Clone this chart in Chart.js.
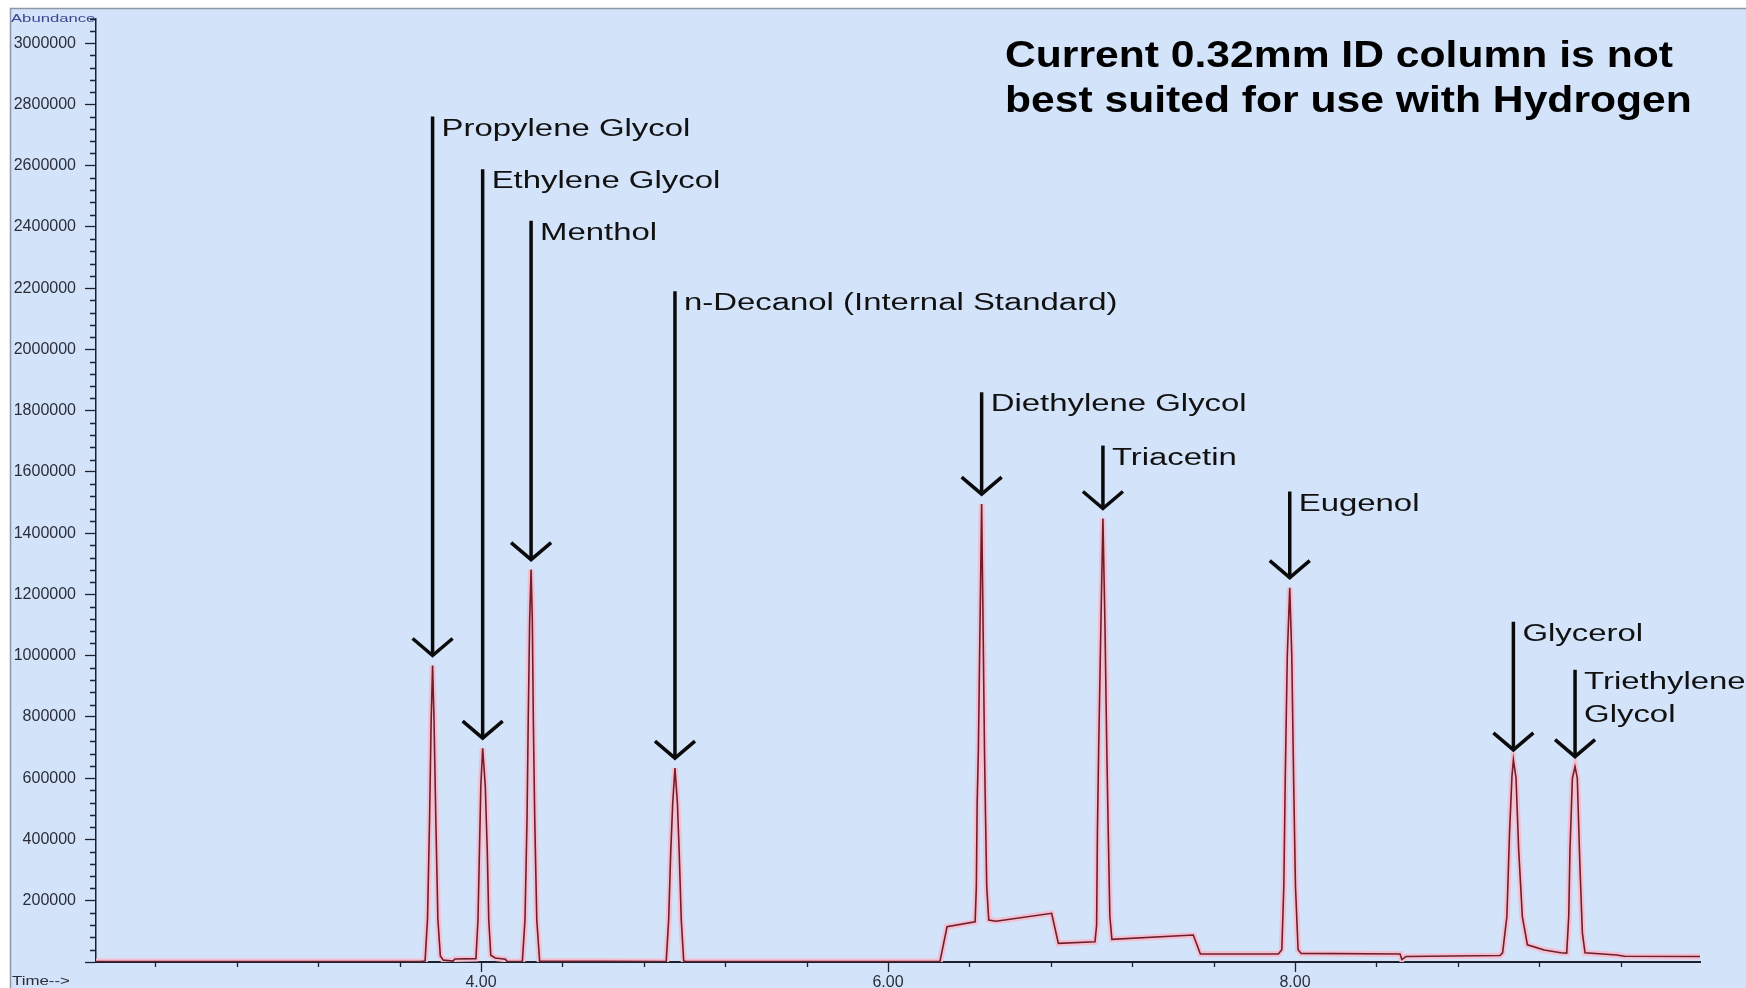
<!DOCTYPE html>
<html>
<head>
<meta charset="utf-8">
<title>Chromatogram</title>
<script src="https://cdn.jsdelivr.net/npm/chart.js@4.4.1/dist/chart.umd.min.js"></script>
<style>
  html, body { margin: 0; padding: 0; background: #fff; }
  #wrap { width: 1746px; height: 988px; position: relative; }
</style>
</head>
<body>
<div id="wrap"><canvas id="chrom"></canvas></div>
<script>
// Retention time (min) and abundance.
const times = [
  2.108, 3.700, 3.725, 3.737, 3.747, 3.755, 3.762, 3.769, 3.778, 3.788, 3.800, 3.815, 3.862, 3.872,
  3.975, 3.985, 3.992, 3.999, 4.008, 4.021, 4.031, 4.038, 4.048, 4.070, 4.120, 4.128,
  4.203, 4.216, 4.226, 4.232, 4.239, 4.246, 4.252, 4.257, 4.264, 4.274, 4.288,
  4.910, 4.922, 4.932, 4.942, 4.953, 4.965, 4.974, 4.984, 4.996, 5.010,
  6.255, 6.290, 6.428, 6.434, 6.438, 6.444, 6.452, 6.460, 6.467, 6.474, 6.478, 6.485, 6.495, 6.530,
  6.804, 6.837, 7.017, 7.025, 7.029, 7.035, 7.046, 7.056, 7.066, 7.075, 7.082, 7.090, 7.100,
  7.500, 7.535, 7.918, 7.935, 7.945, 7.952, 7.962, 7.974, 7.984, 7.993, 8.002, 8.015, 8.030,
  8.516, 8.525, 8.545, 9.007, 9.020, 9.041, 9.054, 9.066, 9.073, 9.086, 9.099, 9.117, 9.142,
  9.224, 9.306, 9.335, 9.345, 9.351, 9.363, 9.376, 9.387, 9.400, 9.412, 9.425, 9.580, 9.620, 9.990
];
const abundance = [
  1500, 1500, 3000, 140000, 460000, 790000, 968000, 790000, 460000, 140000, 20000, 6000, 3000, 10000,
  11000, 137000, 355000, 573000, 698000, 573000, 355000, 137000, 22000, 13000, 9000, 1500,
  1500, 137000, 464000, 791000, 1117000, 1281000, 1117000, 791000, 464000, 137000, 3000,
  1500, 137000, 355000, 519000, 633000, 519000, 355000, 137000, 3000, 1500,
  1500, 115000, 131000, 246000, 519000, 693000, 1100000, 1495000, 1100000, 693000, 519000, 246000, 137000, 133000,
  159000, 61000, 66000, 120000, 431000, 693000, 1100000, 1448000, 1100000, 693000, 431000, 150000, 74000,
  88000, 26000, 26000, 40000, 250000, 600000, 1000000, 1222000, 1000000, 600000, 250000, 40000, 28000,
  26000, 8000, 18000, 21000, 30000, 148000, 420000, 606000, 660000, 600000, 366000, 148000, 56000,
  39000, 30000, 29000, 150000, 366000, 600000, 638000, 600000, 311000, 95000, 30000, 23000, 19000, 18000
];

// Annotated peaks: name, apex time, apex height, level where the arrow starts.
const peakNames = ['Propylene Glycol', 'Ethylene Glycol', 'Menthol', 'n-Decanol (Internal Standard)',
  'Diethylene Glycol', 'Triacetin', 'Eugenol', 'Glycerol', 'Triethylene\nGlycol'];
const peakTimes = [3.762, 4.008, 4.246, 4.953, 6.460, 7.056, 7.974, 9.073, 9.376];
const peakHeights = [968000, 698000, 1281000, 633000, 1495000, 1448000, 1222000, 660000, 638000];
const arrowTops = [2760000, 2588000, 2420000, 2190000, 1860000, 1686000, 1536000, 1111000, 954000];

const titleLines = ['Current 0.32mm ID column is not', 'best suited for use with Hydrogen'];

const X_MIN = 2.108, X_MAX = 9.99;
const Y_MAX = 3080000;
const Y_MINOR = 40000, Y_MAJOR = 200000;

const FONT = "'Liberation Sans', Arial, sans-serif";
const BG = '#d3e4fa';
const AXIS = '#1d1f2b';

function stretchText(ctx, txt, px, py, size, weight, sx, color) {
  ctx.save();
  ctx.translate(px, py);
  ctx.scale(sx, 1);
  ctx.font = `${weight} ${size}px ${FONT}`;
  ctx.fillStyle = color;
  ctx.textAlign = 'left';
  ctx.textBaseline = 'alphabetic';
  ctx.fillText(txt, 0, 0);
  ctx.restore();
}

const decor = {
  id: 'decor',
  beforeDraw(chart) {
    const ctx = chart.ctx, w = chart.width, h = chart.height;
    ctx.save();
    ctx.fillStyle = '#ffffff';
    ctx.fillRect(0, 0, w, h);
    ctx.fillStyle = BG;
    ctx.fillRect(10, 9, w - 10, h - 9);
    ctx.strokeStyle = '#8d96a6';
    ctx.lineWidth = 1.5;
    ctx.beginPath();
    ctx.moveTo(10.5, h);
    ctx.lineTo(10.5, 8.5);
    ctx.lineTo(w, 8.5);
    ctx.stroke();
    ctx.restore();
  },
  afterDraw(chart) {
    const ctx = chart.ctx;
    const { x, y } = chart.scales;
    ctx.save();
    // short minor ticks (the long major ones come from Chart.js)
    ctx.strokeStyle = AXIS;
    ctx.lineWidth = 1.3;
    ctx.beginPath();
    y.ticks.forEach((tk) => {
      if (tk.value % Y_MAJOR === 0) return;
      const py = Math.round(y.getPixelForValue(tk.value)) + 0.5;
      ctx.moveTo(x.left - 6, py);
      ctx.lineTo(x.left, py);
    });
    for (let k = 6; k * 0.4 < X_MAX; k++) {
      if (k % 5 === 0) continue;
      const px = Math.round(x.getPixelForValue(k * 0.4)) + 0.5;
      ctx.moveTo(px, y.bottom);
      ctx.lineTo(px, y.bottom + 5);
    }
    ctx.stroke();

    // arrows pointing at the peaks
    ctx.strokeStyle = '#0a0a0a';
    ctx.lineWidth = 3.5;
    ctx.lineCap = 'butt';
    peakTimes.forEach((t, i) => {
      const px = x.getPixelForValue(t);
      const top = y.getPixelForValue(arrowTops[i]);
      const tip = y.getPixelForValue(peakHeights[i]) - 10;
      ctx.beginPath();
      ctx.moveTo(px, top);
      ctx.lineTo(px, tip);
      ctx.stroke();
      ctx.beginPath();
      ctx.moveTo(px - 20, tip - 17);
      ctx.lineTo(px, tip);
      ctx.lineTo(px + 20, tip - 17);
      ctx.stroke();
      peakNames[i].split('\n').forEach((line, j) => {
        stretchText(ctx, line, px + 9, top + 19 + j * 33, 23.5, 'normal', 1.4, '#111111');
      });
    });

    // title
    titleLines.forEach((line, j) => {
      stretchText(ctx, line, 1005, 67 + j * 45, 37, 'bold', 1.152, '#000000');
    });

    // axis captions
    stretchText(ctx, 'Abundance', 11, 21.5, 11.5, 'normal', 1.45, '#3a4790');
    stretchText(ctx, 'Time-->', 12, 985, 12.5, 'normal', 1.35, '#2b2d3a');
    ctx.restore();
  }
};

const points = times.map((t, i) => ({ x: t, y: abundance[i] }));

new Chart(document.getElementById('chrom'), {
  type: 'line',
  data: {
    datasets: [
      {
        label: 'TIC halo',
        data: points,
        borderColor: 'rgba(245, 190, 207, 0.95)',
        borderWidth: 6,
        pointRadius: 0,
        tension: 0,
        fill: false,
        order: 2
      },
      {
        label: 'TIC',
        data: points,
        borderColor: '#6b1e2e',
        borderWidth: 1.6,
        pointRadius: 0,
        tension: 0,
        fill: false,
        order: 1
      }
    ]
  },
  options: {
    responsive: true,
    maintainAspectRatio: false,
    animation: false,
    events: [],
    layout: { padding: { top: 18, right: 46, left: 0, bottom: 0 } },
    plugins: { legend: { display: false }, tooltip: { enabled: false } },
    scales: {
      x: {
        type: 'linear',
        min: X_MIN,
        max: X_MAX,
        afterFit: (s) => { s.height = 26; },
        ticks: {
          stepSize: 2,
          maxTicksLimit: 50,
          includeBounds: false,
          autoSkip: false,
          maxRotation: 0,
          padding: 1,
          color: '#2b2d3a',
          font: { family: FONT, size: 16 },
          callback: (v) => v.toFixed(2)
        },
        grid: { display: true, drawOnChartArea: false, tickLength: 10, color: AXIS, tickWidth: 1.3 },
        border: { display: true, color: AXIS, width: 2 }
      },
      y: {
        min: 0,
        max: Y_MAX,
        afterFit: (s) => { s.width = 96; },
        ticks: {
          stepSize: Y_MINOR,
          maxTicksLimit: 200,
          includeBounds: false,
          autoSkip: false,
          padding: 9,
          color: '#2b2d3a',
          font: { family: FONT, size: 16 },
          callback: (v) => (v !== 0 && v % Y_MAJOR === 0 ? String(v) : '')
        },
        grid: {
          display: true,
          drawOnChartArea: false,
          tickLength: 11,
          tickWidth: 1.3,
          tickColor: (c) => (c.tick && c.tick.value % Y_MAJOR === 0 ? AXIS : 'rgba(0,0,0,0)'),
          color: AXIS
        },
        border: { display: true, color: AXIS, width: 1.5 }
      }
    }
  },
  plugins: [decor]
});
</script>
</body>
</html>
